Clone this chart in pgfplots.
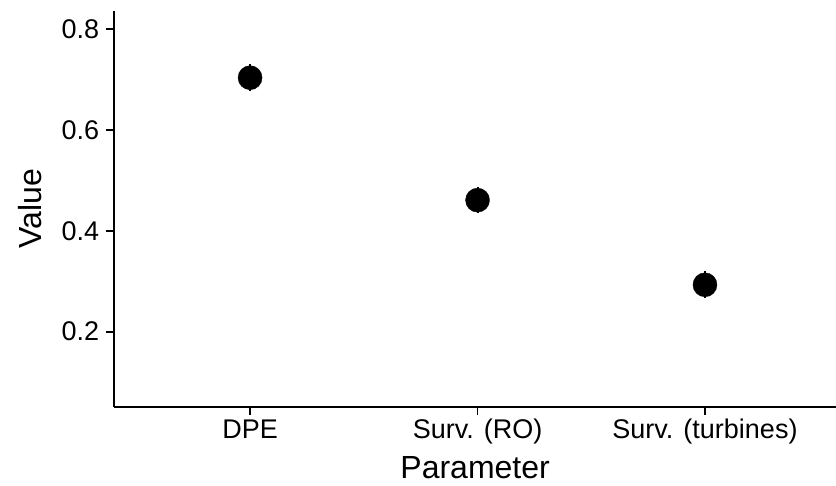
\documentclass[border=0pt]{standalone}
\usepackage{fontspec}
\setmainfont{Liberation Sans}
\usepackage{pgfplots}
\pgfplotsset{compat=1.18}
\begin{document}
\begin{tikzpicture}
\begin{axis}[
  scale only axis, width=721.7pt, height=396pt,
  xmin=0.403, xmax=3.576, ymin=0.051, ymax=0.837,
  axis x line*=bottom, axis y line*=left,
  axis line style={line width=1.8pt,-},
  every tick/.style={line width=1.8pt, black},
  major tick length=8pt, tick align=outside,
  xtick={1,2,3}, xticklabels={DPE, Surv. (RO), Surv. (turbines)},
  ytick={0.2,0.4,0.6,0.8},
  /pgf/number format/assume math mode=true,
  yticklabel={\pgfmathprintnumber[fixed,fixed zerofill,precision=1]{\tick}},
  tick label style={font=\fontsize{27}{30}\selectfont},
  xticklabel style={anchor=base, inner sep=0pt, yshift=-24pt},
  yticklabel style={anchor=east, inner sep=0pt, xshift=-7pt},
  xlabel={Parameter}, ylabel={Value},
  label style={font=\fontsize{32}{36}\selectfont},
  xlabel style={at={(axis description cs:0.5,-0.1808)}, anchor=base, inner sep=0pt},
  ylabel style={at={(axis description cs:-0.1002,0.5)}, anchor=base, inner sep=0pt},
]
\addplot[only marks, mark=*, mark size=12pt, black,
  error bars/.cd, y dir=both, y explicit,
  error bar style={line width=2pt}, error mark=none]
  coordinates {(1,0.704) +- (0,0.027) (2,0.461) +- (0,0.026) (3,0.293) +- (0,0.027)};
\end{axis}
\pgfresetboundingbox
\path[use as bounding box] ([xshift=-114.3pt,yshift=-78.3pt]current axis.south west) rectangle ([yshift=10.7pt]current axis.north east);
\end{tikzpicture}
\end{document}
